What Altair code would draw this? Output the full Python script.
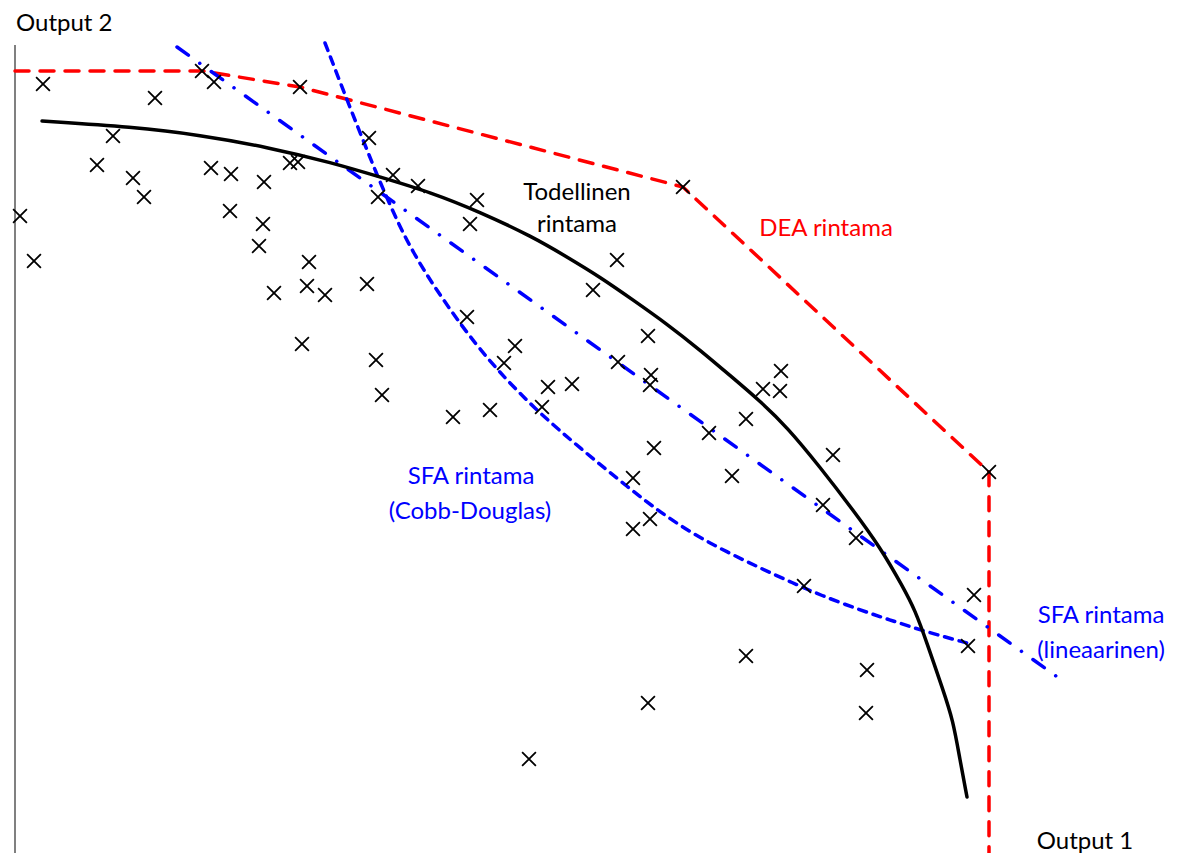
import altair as alt
import pandas as pd

# Units: Output 1 / Output 2 (arbitrary units)
pt_o1 = [28, 140, 187, 199, 285, 98, 82, 118, 129, 196, 216, 249, 275, 283, 354, 363, 378, 5, 19,
         215, 248, 244, 294, 292, 259, 310, 352, 287, 361, 367, 403, 462, 455, 668, 602, 578, 452,
         633, 500, 489, 603, 636, 635, 533, 557, 527, 438, 475, 748, 766, 765, 731, 694, 639, 618,
         717, 635, 618, 818, 808, 841, 974, 789, 959, 953, 852, 851, 514, 633, 731]
pt_o2 = [776, 762, 789, 778, 773, 724, 695, 682, 663, 692, 686, 678, 697, 698, 722, 663, 685, 644, 599,
         649, 636, 614, 598, 574, 567, 565, 576, 516, 500, 465, 674, 660, 636, 673, 600, 570, 543,
         524, 514, 497, 498, 485, 475, 473, 476, 453, 443, 450, 471, 489, 469, 441, 427, 412, 382,
         384, 341, 331, 405, 355, 322, 388, 274, 265, 214, 190, 147, 101, 157, 204]

true_o1 = [27, 118, 185, 252, 318, 365, 415, 465, 518, 552, 585, 618, 652, 685, 718, 745, 772, 805,
           838, 865, 888, 900, 912, 928, 938, 945, 952]
true_o2 = [739, 733, 725, 713, 697, 683, 668, 648, 623, 603, 583, 560, 536, 510, 482, 459, 433, 393,
           350, 313, 273, 250, 217, 170, 140, 100, 63]

dea_o1 = [0, 187, 285, 668, 974, 974]
dea_o2 = [789, 789, 773, 673, 388, -2]

lin_o1 = [162, 1048]
lin_o2 = [813, 179]

cd_o1 = [310, 332, 352, 365, 383, 398, 415, 432, 452, 482, 522, 565, 615, 645, 678, 712, 745, 778, 805,
         845, 878, 912, 952]
cd_o2 = [817, 760, 710, 678, 637, 608, 580, 555, 527, 490, 449, 412, 371, 348, 326, 308, 292, 277, 265,
         250, 239, 228, 217]

lbl_text = ["Output 2", "Todellinen", "rintama", "DEA rintama", "SFA rintama", "(Cobb-Douglas)",
            "SFA rintama", "(lineaarinen)", "Output 1"]
lbl_o1 = [1, 562, 562, 811, 456, 455, 1086, 1086, 1070]
lbl_o2 = [836, 667, 635, 631, 383, 348, 244, 209, 18]
lbl_color = ["#000000", "#000000", "#000000", "#ff0000", "#0000ff", "#0000ff", "#0000ff", "#0000ff",
             "#000000"]
lbl_align = ["left", "center", "center", "center", "center", "center", "center", "center", "center"]

axis_o1 = [0, 0]
axis_o2 = [-7, 815]

W, H = 1161, 845
xs = alt.Scale(domain=[-7, -7 + W], nice=False, zero=False)
ys = alt.Scale(domain=[852 - H, 852], nice=False, zero=False)


def line_df(o1, o2):
    return pd.DataFrame({"o1": o1, "o2": o2, "i": list(range(len(o1)))})


def line_layer(df, color, dash, width=3.5, cap="round", interp="linear"):
    kw = dict(color=color, strokeWidth=width, strokeCap=cap, interpolate=interp)
    if dash:
        kw["strokeDash"] = dash
    return alt.Chart(df).mark_line(**kw).encode(
        x=alt.X("o1:Q", scale=xs, axis=None),
        y=alt.Y("o2:Q", scale=ys, axis=None),
        order="i:Q",
    )


axis_layer = alt.Chart(line_df(axis_o1, axis_o2)).mark_line(color="#808080", strokeWidth=2).encode(
    x=alt.X("o1:Q", scale=xs, axis=None), y=alt.Y("o2:Q", scale=ys, axis=None), order="i:Q")

true_layer = line_layer(line_df(true_o1, true_o2), "#000000", None, width=3.5, interp="basis")
dea_layer = line_layer(line_df(dea_o1, dea_o2), "#ff0000", [14, 11])
lin_layer = line_layer(line_df(lin_o1, lin_o2), "#0000ff", [14, 14, 0.1, 14])
cd_layer = line_layer(line_df(cd_o1, cd_o2), "#0000ff", [8, 7], interp="basis")

pts = pd.DataFrame({"o1": pt_o1, "o2": pt_o2})
pt_layer = alt.Chart(pts).mark_point(
    shape="M-1,-1L1,1M-1,1L1,-1", size=190, filled=False, color="#000000",
    strokeWidth=1.8, opacity=1,
).encode(x=alt.X("o1:Q", scale=xs, axis=None), y=alt.Y("o2:Q", scale=ys, axis=None))

lbl = pd.DataFrame({"t": lbl_text, "o1": lbl_o1, "o2": lbl_o2, "c": lbl_color, "a": lbl_align})
text_layers = []
for align in ["left", "center"]:
    text_layers.append(
        alt.Chart(lbl[lbl["a"] == align]).mark_text(
            font="Lato", fontSize=24, align=align, baseline="middle"
        ).encode(
            x=alt.X("o1:Q", scale=xs, axis=None),
            y=alt.Y("o2:Q", scale=ys, axis=None),
            text="t:N",
            color=alt.Color("c:N", scale=None),
        )
    )

chart = alt.layer(
    axis_layer, dea_layer, cd_layer, lin_layer, true_layer, pt_layer, *text_layers
).properties(
    width=W, height=H, padding=0,
    autosize=alt.AutoSizeParams(type="none"),
).configure_view(stroke=None)

chart.save("out.html", embed_options={"renderer": "svg", "actions": False})
